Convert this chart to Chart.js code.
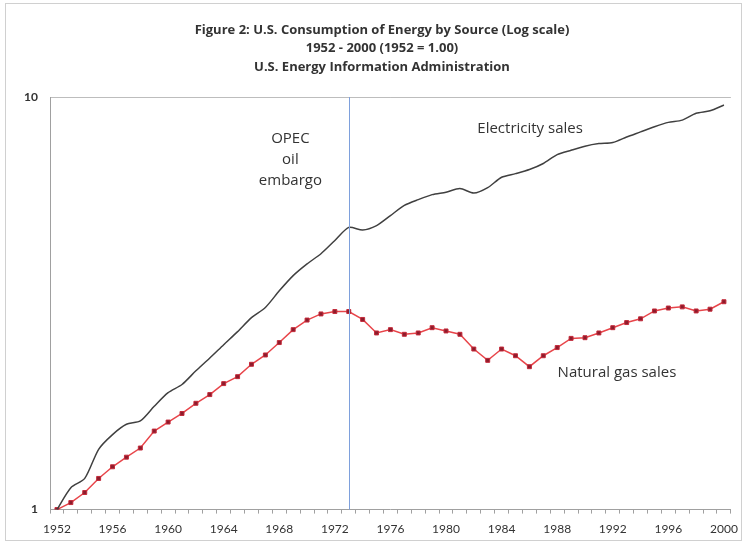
<!DOCTYPE html>
<html>
<head>
<meta charset="utf-8">
<script src="https://cdn.jsdelivr.net/npm/chart.js@4"></script>
<style>
    body { margin: 0; background: #fff; }
    #wrap { position: relative; width: 746px; height: 544px; }
</style>
</head>
<body>
<div id="wrap"><canvas id="energyChart" width="746" height="544"></canvas></div>
<script>
const years = [];
for (let y = 1952; y <= 2000; y++) years.push(String(y));

const electricity = [1.00, 1.13, 1.19, 1.40, 1.52, 1.61, 1.64, 1.78, 1.92, 2.01,
    2.17, 2.33, 2.51, 2.70, 2.92, 3.09, 3.39, 3.69, 3.94, 4.17,
    4.49, 4.83, 4.76, 4.88, 5.16, 5.46, 5.64, 5.80, 5.88, 6.00,
    5.85, 6.03, 6.39, 6.52, 6.67, 6.90, 7.25, 7.43, 7.60, 7.71,
    7.76, 8.00, 8.23, 8.47, 8.68, 8.79, 9.13, 9.26, 9.56];

const naturalGas = [1.00, 1.04, 1.10, 1.19, 1.27, 1.34, 1.41, 1.55, 1.63, 1.71,
    1.81, 1.90, 2.02, 2.10, 2.25, 2.37, 2.54, 2.73, 2.88, 2.98,
    3.02, 3.02, 2.89, 2.68, 2.73, 2.66, 2.68, 2.76, 2.71, 2.66,
    2.45, 2.30, 2.45, 2.36, 2.22, 2.36, 2.47, 2.60, 2.61, 2.68,
    2.76, 2.84, 2.90, 3.03, 3.08, 3.10, 3.03, 3.06, 3.19];

const yTickLabels = [1, 10];
const embargoYear = '1973';

const titleLines = [
    'Figure 2: U.S. Consumption of Energy by Source (Log scale)',
    '1952 - 2000 (1952 = 1.00)',
    'U.S. Energy Information Administration'
];

// text notes placed in data coordinates (fractional category index, value)
const notes = [
    {lines: ['OPEC', 'oil', 'embargo'], at: 16.8, value: 7.03},
    {lines: ['Electricity sales'], at: 34.05, value: 8.36},
    {lines: ['Natural gas sales'], at: 40.3, value: 2.15}
];

const font = "Lato, 'Open Sans', sans-serif";
const noteFont = "'Open Sans', sans-serif";

const extras = {
    id: 'extras',
    beforeDraw(chart) {
        const c = chart.ctx;
        c.save();
        c.strokeStyle = '#d0d0d0';
        c.lineWidth = 1;
        c.strokeRect(5.5, 3.5, 736, 537);
        // title, centred over the plot like the original
        c.fillStyle = '#333';
        c.font = "bold 13px 'Open Sans', sans-serif";
        c.textAlign = 'center';
        c.textBaseline = 'middle';
        titleLines.forEach((t, i) => c.fillText(t, 382, 30 + i * 18.5));
        c.restore();
    },
    afterDatasetsDraw(chart) {
        const c = chart.ctx;
        const x = chart.scales.x, y = chart.scales.y;
        const area = chart.chartArea;
        c.save();
        // embargo marker
        const ex = Math.round(x.getPixelForValue(years.indexOf(embargoYear))) + 0.5;
        c.strokeStyle = '#7ea0dc';
        c.lineWidth = 1;
        c.beginPath();
        c.moveTo(ex, area.top);
        c.lineTo(ex, area.bottom);
        c.stroke();
        // notes
        c.fillStyle = '#333';
        c.font = '15px ' + noteFont;
        c.textAlign = 'center';
        c.textBaseline = 'middle';
        notes.forEach(n => {
            const px = x.getPixelForValue(n.at);
            const py = y.getPixelForValue(n.value);
            const lh = 21;
            const top = py - (n.lines.length - 1) * lh / 2;
            n.lines.forEach((t, i) => c.fillText(t, px, top + i * lh));
        });
        c.restore();
    }
};

new Chart(document.getElementById('energyChart').getContext('2d'), {
    type: 'line',
    data: {
        labels: years,
        datasets: [{
            label: 'Electricity sales',
            data: electricity,
            borderColor: '#404040',
            borderWidth: 1.5,
            pointRadius: 0,
            tension: 0.25,
            fill: false
        }, {
            label: 'Natural gas sales',
            data: naturalGas,
            borderColor: '#e8454a',
            borderWidth: 1.5,
            pointStyle: 'rect',
            pointRadius: 2.8,
            pointBackgroundColor: '#8c1c2c',
            pointBorderColor: '#c42a3a',
            pointBorderWidth: 1,
            tension: 0,
            fill: false
        }]
    },
    options: {
        responsive: false,
        animation: false,
        layout: {padding: {left: 0, right: 14, top: 97, bottom: 0}},
        scales: {
            x: {
                type: 'category',
                offset: true,
                border: {color: '#a0a0a0'},
                grid: {
                    offset: true,
                    drawOnChartArea: false,
                    drawTicks: true,
                    tickLength: 4,
                    color: '#a0a0a0'
                },
                ticks: {
                    autoSkip: false,
                    maxRotation: 0,
                    padding: 8,
                    color: '#333',
                    font: {family: font, size: 12},
                    callback: (v, i) => i % 4 === 0 ? years[i] : ''
                }
            },
            y: {
                type: 'logarithmic',
                min: 1,
                max: 10,
                afterFit: s => { s.width = 50; },
                border: {color: '#a0a0a0'},
                grid: {
                    drawTicks: false,
                    color: ctx => ctx.tick && ctx.tick.value === 10 ? '#bdbdbd' : 'transparent'
                },
                ticks: {
                    padding: 12,
                    color: '#333',
                    font: {family: font, size: 12, weight: 'bold'},
                    callback: v => yTickLabels.includes(v) ? String(v) : ''
                }
            }
        },
        plugins: {
            legend: {display: false},
            tooltip: {enabled: false},
            title: {display: false}
        }
    },
    plugins: [extras]
});
</script>
</body>
</html>
